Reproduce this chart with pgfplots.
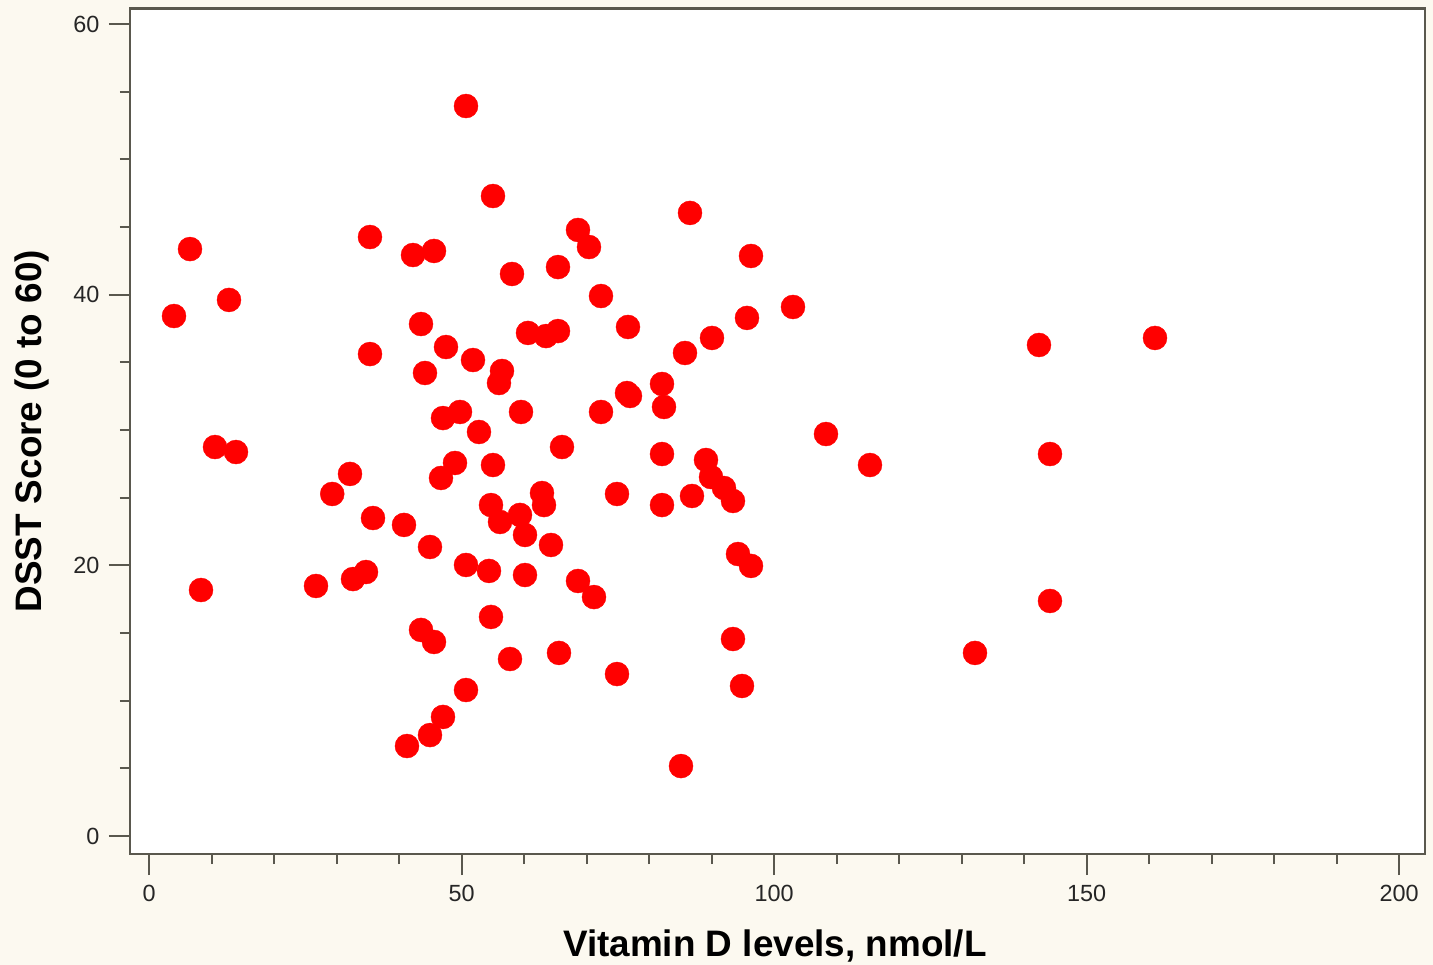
\documentclass[border=0pt]{standalone}
\usepackage{pgfplots}
\pgfplotsset{compat=1.18}
\usepackage{fontspec}
\setmainfont{Liberation Sans}
\definecolor{panelbg}{RGB}{252,249,240}
\definecolor{framegray}{RGB}{90,88,78}
\definecolor{dotred}{RGB}{255,0,0}
\begin{document}
\begin{tikzpicture}
% page background
\fill[panelbg] (-130bp,-111bp) rectangle (1303bp,854bp);
\begin{axis}[
  scale only axis,
  width=1295bp, height=845.5bp,
  xmin=-3.06, xmax=204.14,
  ymin=-1.33, ymax=61.16,
  axis background/.style={fill=white},
  axis line style={framegray, line width=2.5bp},
  xtick={0,50,100,150,200},
  ytick={0,20,40,60},
  minor x tick num=4,
  minor y tick num=3,
  xtick pos=bottom, ytick pos=left,
  tick align=outside,
  major tick length=21bp,
  minor tick length=10bp,
  every tick/.style={framegray, line width=2bp},
  tick label style={font=\fontsize{23.5}{28}\selectfont, text=black!85},
  /pgf/number format/assume math mode=true,
  xticklabel style={anchor=north, yshift=-7bp},
  yticklabel style={anchor=east, xshift=-6bp},
  every axis x label/.style={at={(axis description cs:0.498,-0.1218)}, anchor=base},
  every axis y label/.style={at={(axis description cs:-0.0687,0.5)}, rotate=90, anchor=base},
  label style={font=\fontsize{37}{44}\selectfont\bfseries},
  xlabel={Vitamin D levels, nmol/L},
  ylabel={DSST Score (0 to 60)},
  clip=false,
]
\addplot[only marks, mark=*, mark size=12bp, color=dotred, mark options={draw=dotred, fill=dotred}] table {
x y
3.98 38.43
6.54 43.38
12.78 39.62
10.54 28.75
13.90 28.38
8.30 18.18
26.70 18.48
29.30 25.28
32.14 26.76
32.62 18.99
34.70 19.51
35.34 44.27
35.34 35.62
35.82 23.50
40.78 22.99
41.26 6.65
42.22 42.94
45.58 43.24
43.50 37.84
44.14 34.22
47.50 36.14
47.02 30.89
49.74 31.34
52.78 29.86
48.94 27.57
46.70 26.46
44.94 21.36
50.70 20.03
43.50 15.23
45.58 14.34
47.02 8.80
44.94 7.46
50.70 10.79
50.70 53.95
55.02 47.30
51.82 35.18
56.46 34.37
55.98 33.48
58.06 41.54
55.02 27.42
54.70 24.46
56.14 23.21
54.38 19.59
54.70 16.19
57.74 13.08
59.50 31.34
59.34 23.73
60.14 22.25
60.14 19.29
60.62 37.18
63.50 36.95
65.42 37.32
65.42 42.05
62.86 25.35
63.18 24.46
64.30 21.51
66.06 28.75
65.58 13.53
68.62 44.79
70.38 43.53
72.30 39.91
72.30 31.34
68.62 18.85
71.18 17.66
74.86 25.28
74.86 11.97
76.62 37.62
76.46 32.74
76.94 32.52
82.06 33.41
82.38 31.71
82.06 28.23
82.06 24.46
86.54 46.05
85.74 35.70
86.86 25.13
85.10 5.17
90.06 36.81
89.10 27.79
89.90 26.53
91.98 25.72
93.42 24.76
94.22 20.84
96.30 19.96
93.42 14.56
94.86 11.09
95.66 38.29
96.30 42.87
103.02 39.10
108.30 29.71
115.34 27.42
132.14 13.53
142.38 36.29
144.14 28.23
144.14 17.37
160.94 36.81
};
\end{axis}
\pgfresetboundingbox
\path[use as bounding box] (-130bp,-111bp) rectangle (1303bp,854bp);
\end{tikzpicture}
\end{document}
